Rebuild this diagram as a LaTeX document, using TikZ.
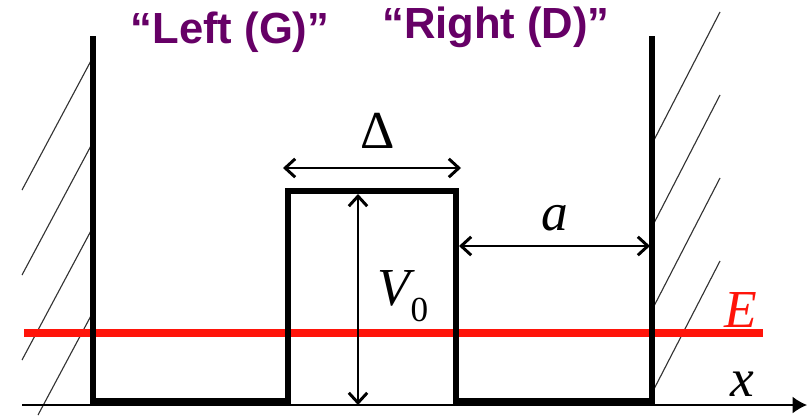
\documentclass[tikz,border=0pt]{standalone}
\usepackage{fontspec}
\setmainfont{Liberation Serif}
\newfontfamily\titlefont{Liberation Sans}
\definecolor{titlePurple}{RGB}{102, 0, 102}
\definecolor{levelRed}{RGB}{255, 20, 10}
\usepackage{tikz}
\usetikzlibrary{positioning, calc, arrows.meta}

\begin{document}
\begin{tikzpicture}[
    x=0.025cm, y=-0.025cm,
    pot/.style={draw=black, line width=4.3pt, line join=miter},
    hatch/.style={draw=black!80, line width=0.8pt},
    dim/.style={draw=black, line width=1pt,
                {Straight Barb[length=0.25cm, width=0.46cm, line width=2.1pt]}-{Straight Barb[length=0.25cm, width=0.46cm, line width=2.1pt]}},
    level/.style={draw=levelRed, line width=5.8pt},
    title/.style={text=titlePurple, font=\titlefont\bfseries\fontsize{31}{36}\selectfont, anchor=base},
    mathlabel/.style={font=\fontsize{38}{42}\selectfont\itshape, inner sep=0pt}
  ]
    \useasboundingbox (0,0) rectangle (807,415);

    % corners of the potential
    \coordinate (wallLtop) at (93,36);
    \coordinate (wallLbot) at (93,401);
    \coordinate (barLbot) at (288,401);
    \coordinate (barLtop) at (288,191);
    \coordinate (barRtop) at (456,191);
    \coordinate (barRbot) at (456,401);
    \coordinate (wallRbot) at (652,401);
    \coordinate (wallRtop) at (652,36);

    % hatching of the walls
    \foreach \k in {0,1,2} {
      \draw[hatch] (93,57+85*\k) -- (22,190+85*\k);
    }
    \draw[hatch] (93,312) -- (38,415);
    \foreach \k in {0,1,2,3} {
      \draw[hatch] (653,142+83*\k) -- (720,12+83*\k);
    }

    % axis
    \coordinate (xstart) at (22,405);
    \coordinate (xend) at (807,405);
    \draw[line width=1pt, -{Latex[length=0.36cm, width=0.42cm]}] (xstart) -- (xend);
    \node[mathlabel] (xlab) at (742,384) {x};

    % energy level
    \coordinate (Estart) at (24,333);
    \coordinate (Eend) at (763,333);
    \draw[level] (Estart) -- (Eend);
    \node[mathlabel, text=levelRed] (Elab) at (741,310) {E};

    % potential
    \draw[pot] (wallLtop) -- (wallLbot) -- (barLbot) -- (barLtop) -- (barRtop)
      -- (barRbot) -- (wallRbot) -- (wallRtop);

    % dimensions
    \coordinate (dL) at (283,168);
    \coordinate (dR) at (461,168);
    \draw[dim] (dL) -- (dR);
    \node[mathlabel, font=\fontsize{38}{42}\selectfont] (Dlab) at (378,131) {Δ};

    \coordinate (vT) at (358,194);
    \coordinate (vB) at (358,405);
    \draw[dim] (vT) -- (vB);
    \node[mathlabel] (Vlab) at (403,296) {V{\upshape\fontsize{25}{25}\selectfont\raisebox{-11pt}{0}}};

    \coordinate (aL) at (459,246);
    \coordinate (aR) at (650,246);
    \draw[dim] (aL) -- (aR);
    \node[mathlabel] (alab) at (555,218) {a};

    % titles
    \node[title] (left) at (230,43) {“Left (G)”};
    \node[title] (right) at (496,38) {“Right (D)”};
  \end{tikzpicture}
\end{document}
